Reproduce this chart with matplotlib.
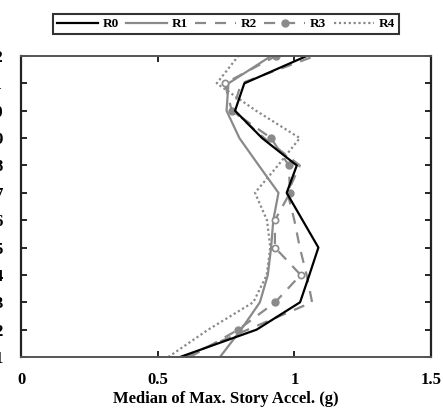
import matplotlib
matplotlib.use("Agg")
import matplotlib.pyplot as plt
from matplotlib.lines import Line2D

plt.rcParams['font.family'] = ['Liberation Serif', 'DejaVu Serif']
plt.rcParams['font.weight'] = 'bold'

# Story levels (bottom to top)
levels = [1, 2, 3, 4, 5, 6, 7, 8, 9, 10, 11, 12]

# Median of maximum story acceleration (g) per record set
r0 = [0.582, 0.862, 1.021, 1.055, 1.088, 1.030, 0.972, 1.009, 0.882, 0.783, 0.817, 1.045]
r1 = [0.728, 0.805, 0.874, 0.903, 0.915, 0.923, 0.942, 0.870, 0.799, 0.752, 0.759, 0.915]
r2 = [0.595, 0.830, 1.065, 1.045, 1.020, 1.000, 0.975, 1.020, 0.890, 0.775, 0.805, 1.075]
r3 = [0.618, 0.795, 0.930, 1.023, 0.929, 0.929, 0.984, 0.980, 0.915, 0.771, 0.746, 0.933]
r4 = [0.539, 0.685, 0.850, 0.899, 0.912, 0.900, 0.856, 0.940, 1.020, 0.860, 0.716, 0.795]

# Levels whose R3 marker is drawn hollow
r3_hollow = [4, 5, 6, 11]

series_names = ['R0', 'R1', 'R2', 'R3', 'R4']
x_ticks = [0, 0.5, 1, 1.5]
x_tick_labels = ['0', '0.5', '1', '1.5']

gray = '#8a8a8a'

fig = plt.figure(figsize=(4.43, 4.08), dpi=100)
ax = fig.add_axes([21 / 443, 1 - 357 / 408, 410 / 443, 301 / 408])

ax.plot(r4, levels, color=gray, lw=1.6, ls=(0, (1, 1.2)))
ax.plot(r1, levels, color=gray, lw=1.6, ls='-')
ax.plot(r2, levels, color=gray, lw=1.6, ls=(0, (5, 4)))
filled_idx = [i for i, lv in enumerate(levels) if lv not in r3_hollow]
hollow_idx = [i for i, lv in enumerate(levels) if lv in r3_hollow]
ax.plot(r3, levels, color=gray, lw=1.6, ls=(0, (5, 4)), marker='o', ms=5,
        markevery=filled_idx, mfc=gray, mec=gray)
ax.plot([r3[i] for i in hollow_idx], [levels[i] for i in hollow_idx], ls='none',
        marker='o', ms=4.5, mfc='white', mec=gray, mew=1.2)
ax.plot(r0, levels, color='black', lw=1.6, ls='-')

ax.set_xlim(0, 1.5)
ax.set_ylim(1, 12)
ax.set_xticks(x_ticks)
ax.set_xticklabels(x_tick_labels, fontsize=12, fontweight='bold')
ax.set_yticks(levels)
ax.set_yticklabels([str(v) for v in levels], fontsize=12, fontweight='bold')
ax.tick_params(axis='both', direction='in', length=4, width=1.2,
               top=True, right=True, colors='black')
ax.tick_params(axis='y', pad=13)
ax.tick_params(axis='x', pad=11)
ax.set_xlabel('Median of Max. Story Accel. (g)', fontsize=12, fontweight='bold', labelpad=2)

for side in ['left', 'right']:
    ax.spines[side].set_color('#222222')
    ax.spines[side].set_linewidth(1.6)
for side in ['top', 'bottom']:
    ax.spines[side].set_color('#555555')
    ax.spines[side].set_linewidth(1.4)

handles = [
    Line2D([], [], color='black', lw=1.6),
    Line2D([], [], color=gray, lw=1.6),
    Line2D([], [], color=gray, lw=1.6, ls=(0, (5, 4))),
    Line2D([], [], color=gray, lw=1.6, ls=(0, (5, 4)), marker='o', ms=5),
    Line2D([], [], color=gray, lw=1.6, ls=(0, (1, 1.2))),
]
leg = fig.legend(handles, series_names, loc='center', bbox_to_anchor=(226 / 443, 1 - 24 / 408),
                 ncol=5, frameon=True, fancybox=False, edgecolor='black',
                 prop={'weight': 'bold', 'size': 9.5}, handlelength=3.1,
                 columnspacing=0.6, handletextpad=0.3, borderpad=0.3)
leg.get_frame().set_linewidth(1.5)

fig.savefig('out.png', dpi=100)
